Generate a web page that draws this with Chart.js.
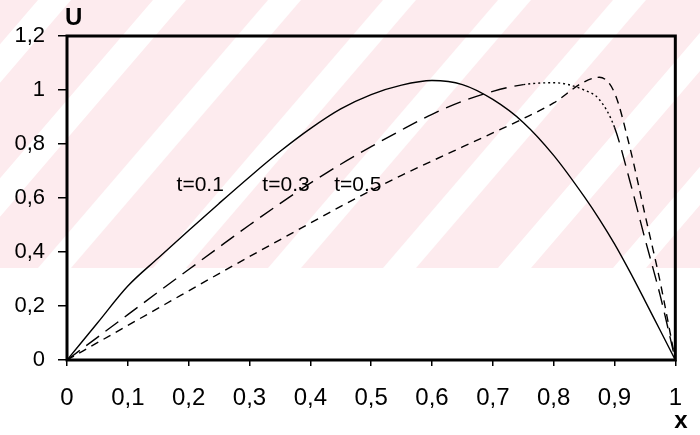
<!DOCTYPE html>
<html>
<head>
<meta charset="utf-8">
<script src="https://cdn.jsdelivr.net/npm/chart.js@4.4.0/dist/chart.umd.min.js"></script>
<style>
    html, body { margin: 0; padding: 0; background: #fff; }
    #uChart { display: block; }
</style>
</head>
<body>
<canvas id="uChart" width="700" height="435"></canvas>
<script>
// x positions along the rod (shared by all three curves)
const xValues = [0, 0.05, 0.1, 0.15, 0.2, 0.25, 0.3, 0.35, 0.4, 0.45, 0.5, 0.55, 0.6, 0.65, 0.7, 0.75, 0.8, 0.85,
    0.875, 0.9, 0.925, 0.95, 0.975, 1];

// U(x)
const uT01 = [0, 0.137, 0.274, 0.378, 0.48, 0.58, 0.678, 0.772, 0.857, 0.93, 0.983, 1.018, 1.035, 1.02, 0.965, 0.88, 0.758, 0.606,
    0.522, 0.43, 0.328, 0.22, 0.11, 0];
const uT03 = [0, 0.084, 0.168, 0.252, 0.335, 0.418, 0.5, 0.579, 0.655, 0.725, 0.79, 0.852, 0.91, 0.958, 0.995, 1.02, 1.027, 1.0,
    0.965, 0.862, 0.665, 0.45, 0.24, 0];
const uT05 = [0, 0.064, 0.128, 0.192, 0.256, 0.32, 0.383, 0.445, 0.507, 0.569, 0.628, 0.684, 0.737, 0.789, 0.841, 0.894, 0.952, 1.03,
    1.047, 0.99, 0.79, 0.54, 0.29, 0];

const seriesNames = ['t=0.1', 't=0.3', 't=0.5'];
// where each curve name sits, in data units [x, U]
const nameSpots = [[0.219, 0.648], [0.36, 0.648], [0.478, 0.648]];

const xTickValues = [0, 0.1, 0.2, 0.3, 0.4, 0.5, 0.6, 0.7, 0.8, 0.9, 1];
const yTickValues = [0, 0.2, 0.4, 0.6, 0.8, 1, 1.2];

const FONT = '"Liberation Sans", Arial, sans-serif';

document.addEventListener('DOMContentLoaded', () => {
    const toPoints = (ys) => xValues.map((x, i) => ({ x: x, y: ys[i] }));
    const comma = (v) => String(Math.round(v * 10) / 10).replace('.', ',');

    // faint pink diagonal watermark behind the upper part of the scan
    const watermark = {
        id: 'watermark',
        beforeDraw: (chart) => {
            const ctx = chart.ctx;
            const h = 268;
            ctx.save();
            ctx.fillStyle = '#fdebee';
            ctx.fillRect(0, 0, chart.width, h);
            ctx.fillStyle = '#ffffff';
            for (let x0 = 38; x0 < chart.width + 260; x0 += 115) {
                ctx.beginPath();
                ctx.moveTo(x0, 0);
                ctx.lineTo(x0 + 33, 0);
                ctx.lineTo(x0 + 33 - 230, h);
                ctx.lineTo(x0 - 230, h);
                ctx.closePath();
                ctx.fill();
            }
            ctx.restore();
        }
    };

    const frameAndText = {
        id: 'frameAndText',
        afterDraw: (chart) => {
            const { ctx, chartArea: a, scales } = chart;
            ctx.save();
            ctx.strokeStyle = '#000';
            ctx.lineWidth = 3;
            ctx.strokeRect(a.left, a.top, a.right - a.left, a.bottom - a.top);

            ctx.fillStyle = '#000';
            ctx.font = '21px ' + FONT;
            ctx.textAlign = 'center';
            ctx.textBaseline = 'middle';
            seriesNames.forEach((name, i) => {
                const px = scales.x.getPixelForValue(nameSpots[i][0]);
                const py = scales.y.getPixelForValue(nameSpots[i][1]);
                ctx.fillText(name, px, py);
            });

            ctx.font = 'bold 24px ' + FONT;
            ctx.textAlign = 'left';
            ctx.textBaseline = 'alphabetic';
            ctx.fillText('U', a.left - 2, a.top - 11);
            ctx.fillText('x', a.right - 1, a.bottom + 68);
            ctx.restore();
        }
    };

    const ctx = document.getElementById('uChart').getContext('2d');

    new Chart(ctx, {
        type: 'line',
        data: {
            datasets: [{
                label: seriesNames[0],
                data: toPoints(uT01),
                borderColor: '#000',
                borderWidth: 1.4
            }, {
                label: seriesNames[1],
                data: toPoints(uT03),
                borderColor: '#000',
                borderWidth: 1.4,
                borderDash: [16, 8],
                segment: {
                    borderDash: (c) => (c.p0.parsed.x >= 0.75 && c.p0.parsed.x < 0.9) ? [2, 3] : undefined
                }
            }, {
                label: seriesNames[2],
                data: toPoints(uT05),
                borderColor: '#000',
                borderWidth: 1.4,
                borderDash: [8, 6]
            }]
        },
        options: {
            responsive: false,
            animation: false,
            devicePixelRatio: 1,
            layout: { padding: { top: 36, right: 11, left: 0, bottom: 0 } },
            elements: {
                point: { radius: 0 },
                line: { cubicInterpolationMode: 'monotone', fill: false }
            },
            scales: {
                x: {
                    type: 'linear',
                    min: 0,
                    max: 1,
                    afterBuildTicks: (scale) => { scale.ticks = xTickValues.map(v => ({ value: v })); },
                    afterFit: (scale) => { scale.height = 75; },
                    grid: { drawOnChartArea: false, drawTicks: true, tickLength: 6, color: '#000', lineWidth: 1.5 },
                    border: { display: false },
                    ticks: {
                        color: '#000',
                        font: { family: FONT, size: 24 },
                        padding: 18,
                        maxRotation: 0,
                        callback: (v) => comma(v)
                    }
                },
                y: {
                    min: 0,
                    max: 1.2,
                    afterBuildTicks: (scale) => { scale.ticks = yTickValues.map(v => ({ value: v })); },
                    afterFit: (scale) => { scale.width = 67; },
                    grid: { drawOnChartArea: false, drawTicks: true, tickLength: 9, color: '#000', lineWidth: 1.5 },
                    border: { display: false },
                    ticks: {
                        color: '#000',
                        font: { family: FONT, size: 22 },
                        padding: 13,
                        callback: (v) => comma(v)
                    }
                }
            },
            plugins: {
                legend: { display: false },
                tooltip: { enabled: false }
            }
        },
        plugins: [watermark, frameAndText]
    });
});
</script>
</body>
</html>
